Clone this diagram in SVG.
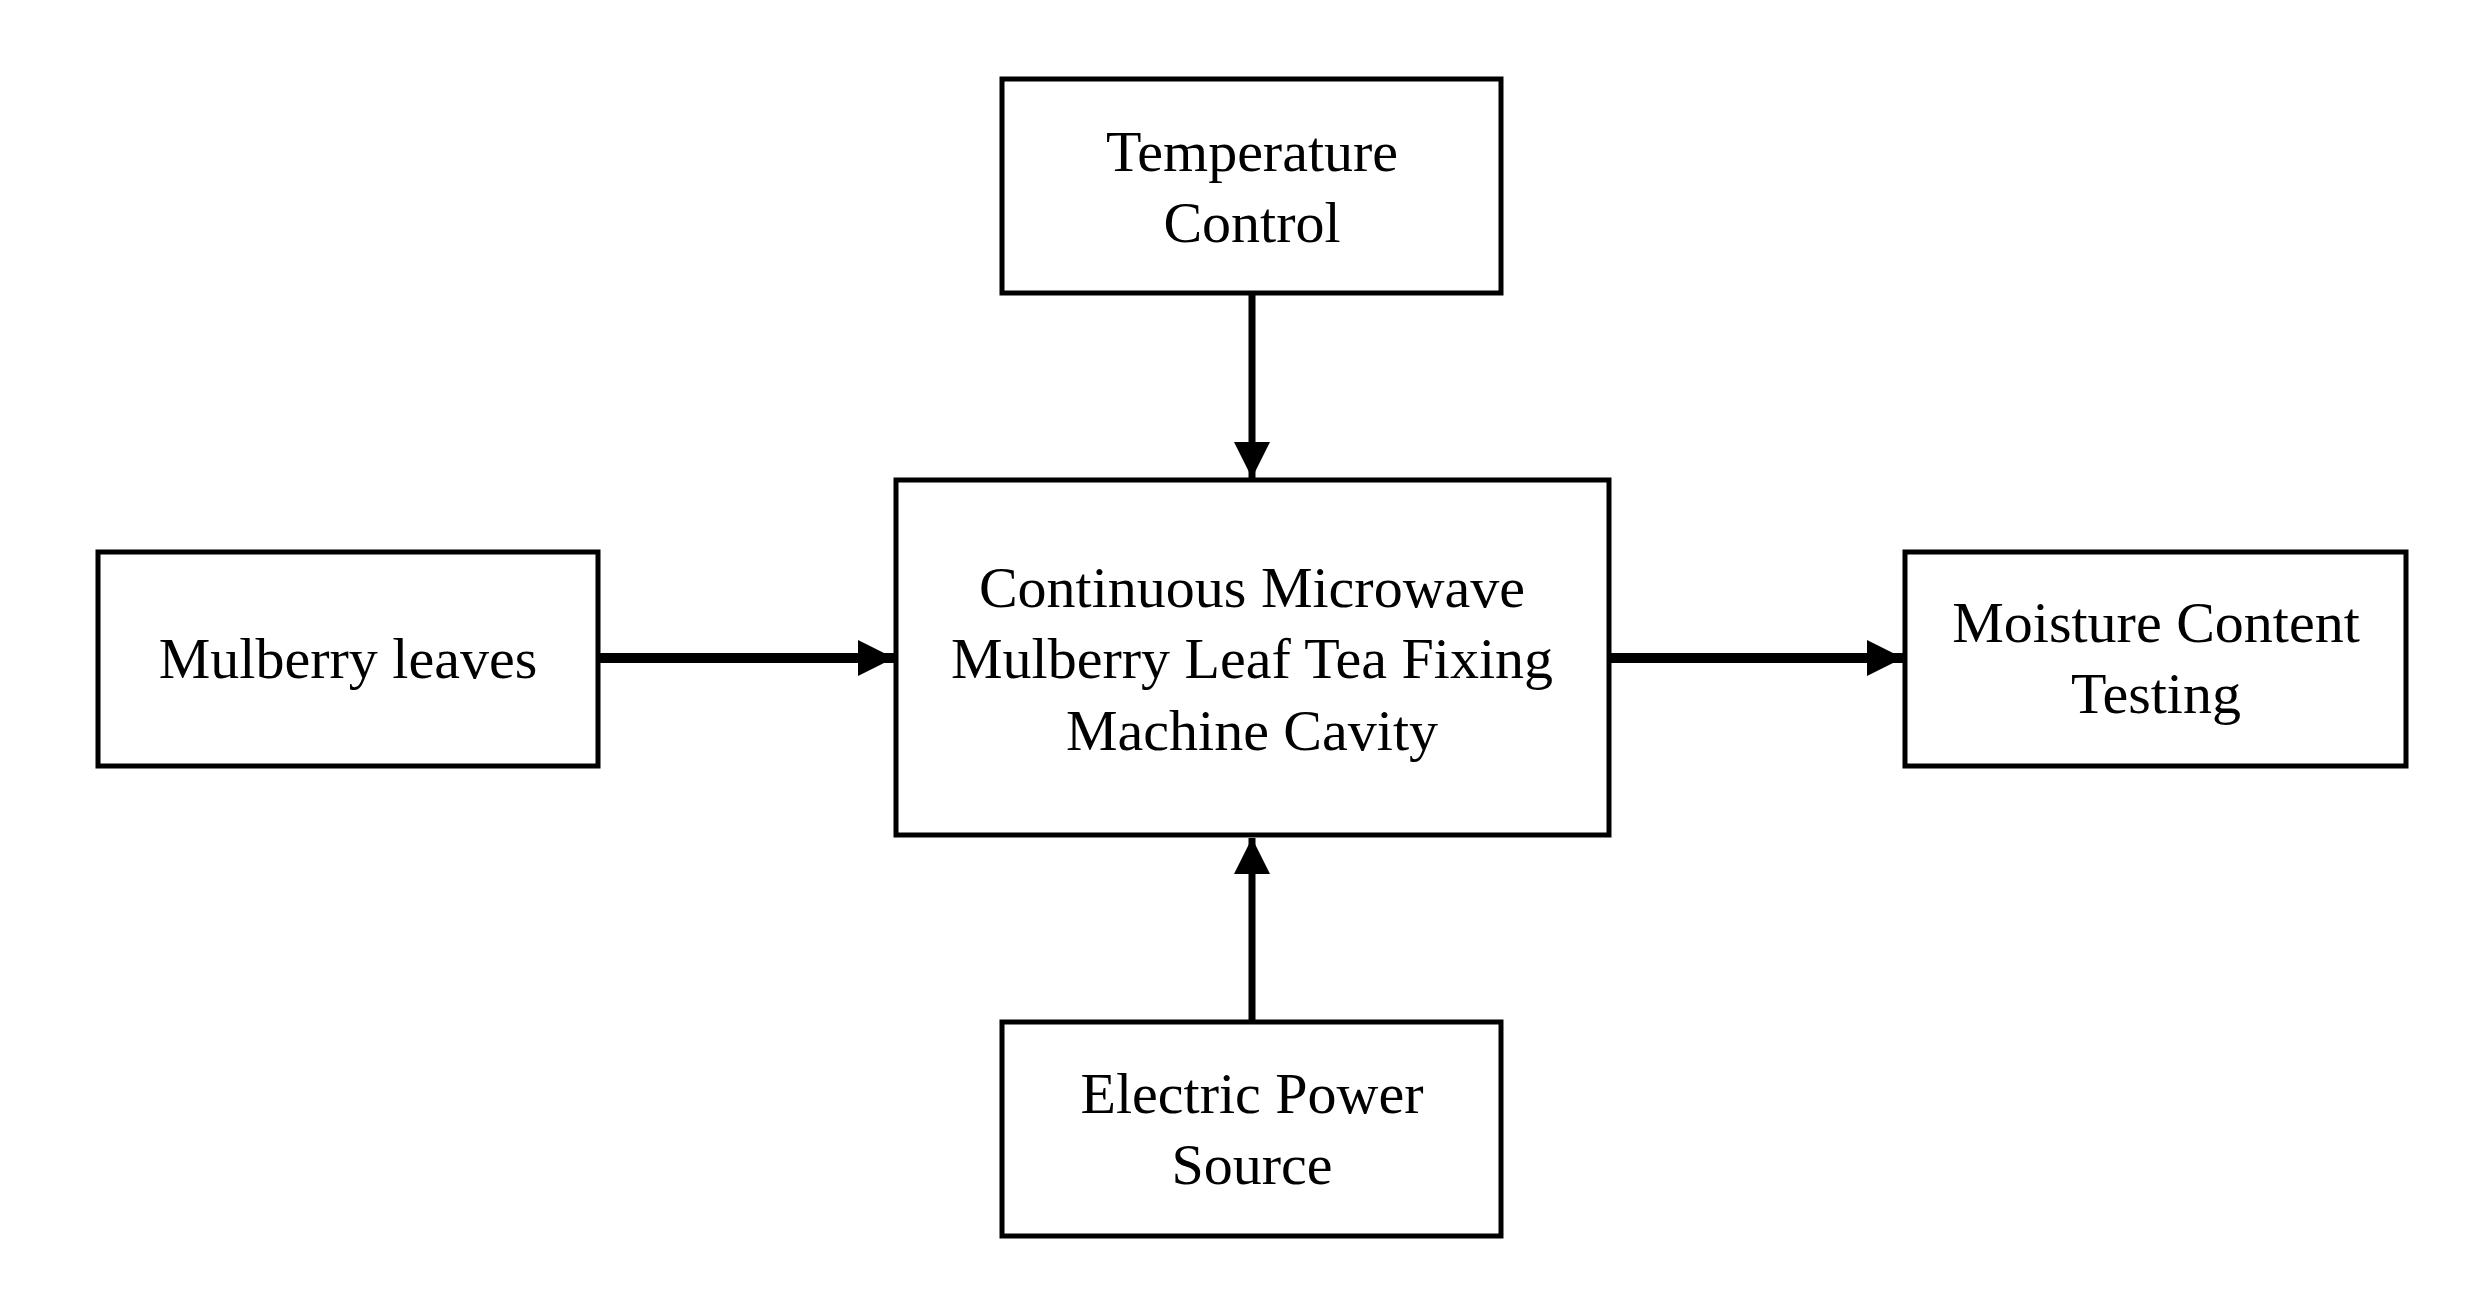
<svg xmlns="http://www.w3.org/2000/svg" width="2472" height="1301" viewBox="0 0 2472 1301">
<style>
rect{fill:#fff;stroke:#000;stroke-width:5}
text{font-family:"Liberation Serif","Times New Roman",serif;font-size:58px;text-anchor:middle;fill:#000}
.c{stroke:#000;fill:none}
</style>
<defs>
<marker id="a" markerUnits="userSpaceOnUse" markerWidth="40" markerHeight="40" refX="36" refY="18" orient="auto"><path d="M0,0 L36,18 L0,36 Z" fill="#000"/></marker>
</defs>
<rect width="2472" height="1301" style="stroke:none"/>
<g id="connectors">
<line class="c" x1="1252" y1="293" x2="1252" y2="478" stroke-width="7" marker-end="url(#a)"/>
<line class="c" x1="1252" y1="1022" x2="1252" y2="838" stroke-width="7" marker-end="url(#a)"/>
<line class="c" x1="598" y1="658" x2="894" y2="658" stroke-width="10" marker-end="url(#a)"/>
<line class="c" x1="1609" y1="658" x2="1903" y2="658" stroke-width="10" marker-end="url(#a)"/>
</g>
<g id="temp"><rect x="1002" y="79" width="499" height="214"/><text x="1252" y="171">Temperature</text><text x="1252" y="242">Control</text></g>
<g id="center"><rect x="896" y="480" width="713" height="355"/><text x="1252" y="607">Continuous Microwave</text><text x="1252" y="678">Mulberry Leaf Tea Fixing</text><text x="1252" y="750">Machine Cavity</text></g>
<g id="leaves"><rect x="98" y="552" width="500" height="214"/><text x="348" y="678">Mulberry leaves</text></g>
<g id="moisture"><rect x="1905" y="552" width="501" height="214"/><text x="2156" y="642">Moisture Content</text><text x="2156" y="713">Testing</text></g>
<g id="power"><rect x="1002" y="1022" width="499" height="214"/><text x="1252" y="1113">Electric Power</text><text x="1252" y="1184">Source</text></g>
</svg>
